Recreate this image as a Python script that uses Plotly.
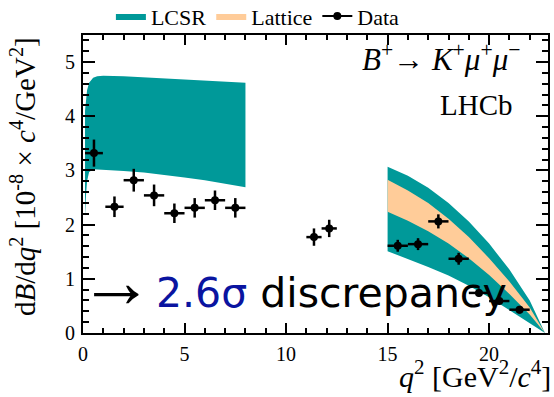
import plotly.graph_objects as go

# Measured differential branching fraction, B+ -> K+ mu+ mu-
q2_bin_lo = [0.1, 1.1, 2.0, 3.0, 4.0, 5.0, 6.0, 7.0, 11.0, 11.75, 15.0, 16.0, 17.0, 18.0, 19.0, 20.0, 21.0]
q2_bin_hi = [0.98, 2.0, 3.0, 4.0, 5.0, 6.0, 7.0, 8.0, 11.75, 12.5, 16.0, 17.0, 18.0, 19.0, 20.0, 21.0, 22.0]
dbdq2 = [3.32, 2.33, 2.82, 2.54, 2.21, 2.31, 2.45, 2.31, 1.77, 1.93, 1.61, 1.64, 2.06, 1.37, 0.74, 0.59, 0.43]
dbdq2_err = [0.25, 0.19, 0.21, 0.20, 0.18, 0.18, 0.18, 0.18, 0.16, 0.16, 0.11, 0.11, 0.13, 0.11, 0.07, 0.06, 0.07]

# LCSR prediction, low-q2 region
lcsr_low_q2 = [0.1, 0.15, 0.2, 0.3, 0.5, 0.7, 1, 2, 3, 4, 5, 6, 7, 8]
lcsr_low_up = [4.1, 4.35, 4.48, 4.62, 4.71, 4.74, 4.75, 4.74, 4.72, 4.70, 4.68, 4.66, 4.64, 4.62]
lcsr_low_lo = [2.15, 2.55, 2.8, 2.97, 3.02, 3.02, 3.01, 2.99, 2.96, 2.92, 2.87, 2.82, 2.76, 2.69]

# LCSR and lattice predictions, high-q2 region
high_q2 = [15, 16, 17, 18, 19, 20, 21, 22, 22.75]
lcsr_high_up = [3.07, 2.90, 2.68, 2.40, 2.06, 1.65, 1.17, 0.60, 0]
lcsr_high_lo = [1.51, 1.37, 1.22, 1.06, 0.87, 0.66, 0.43, 0.18, 0]
latt_high_up = [2.83, 2.63, 2.40, 2.11, 1.77, 1.38, 0.95, 0.47, 0]
latt_high_lo = [2.24, 2.07, 1.88, 1.65, 1.38, 1.07, 0.72, 0.34, 0]

x_ticks = [0, 5, 10, 15, 20]
y_ticks = [0, 1, 2, 3, 4, 5]

TEAL = "rgb(0,153,153)"
PEACH = "rgb(255,204,153)"
SERIF = "Liberation Serif"


def band(xs, up, lo):
    return xs + xs[::-1], up + lo[::-1]


q2_mid = [(a + b) / 2 for a, b in zip(q2_bin_lo, q2_bin_hi)]
q2_half = [(b - a) / 2 for a, b in zip(q2_bin_lo, q2_bin_hi)]

fig = go.Figure()

bx, by = band(lcsr_low_q2, lcsr_low_up, lcsr_low_lo)
fig.add_trace(go.Scatter(x=bx, y=by, fill="toself", fillcolor=TEAL, mode="lines",
                         line=dict(width=0, color=TEAL), name="LCSR", legendgroup="lcsr"))
bx, by = band(high_q2, lcsr_high_up, lcsr_high_lo)
fig.add_trace(go.Scatter(x=bx, y=by, fill="toself", fillcolor=TEAL, mode="lines",
                         line=dict(width=0, color=TEAL), name="LCSR", legendgroup="lcsr",
                         showlegend=False))
bx, by = band(high_q2, latt_high_up, latt_high_lo)
fig.add_trace(go.Scatter(x=bx, y=by, fill="toself", fillcolor=PEACH, mode="lines",
                         line=dict(width=0, color=PEACH), name="Lattice"))

fig.add_trace(go.Scatter(
    x=q2_mid, y=dbdq2, mode="markers", showlegend=False,
    marker=dict(color="black", size=8),
    error_x=dict(type="data", array=q2_half, color="black", thickness=2.5, width=0),
    error_y=dict(type="data", array=dbdq2_err, color="black", thickness=2.5, width=0),
))
# legend entry for the data points
fig.add_trace(go.Scatter(x=[None], y=[None], mode="lines+markers", name="Data",
                         marker=dict(color="black", size=8), line=dict(color="black", width=2)))

axis_common = dict(
    showline=True, linecolor="black", linewidth=2, mirror="allticks",
    ticks="inside", tickcolor="black", tickwidth=2,
    showgrid=False, zeroline=False,
    tickfont=dict(family=SERIF, size=20, color="black"),
)

fig.update_xaxes(range=[0, 22.9], tickvals=x_ticks, ticklen=10,
                 minor=dict(ticks="inside", dtick=1, ticklen=5, tickwidth=1.5, tickcolor="black"),
                 ticklabelstandoff=2, **axis_common)
fig.update_yaxes(range=[0, 5.5], tickvals=y_ticks, ticklen=12,
                 minor=dict(ticks="inside", dtick=0.2, ticklen=6, tickwidth=1.5, tickcolor="black"),
                 ticklabelstandoff=2, **axis_common)

fig.add_annotation(xref="paper", yref="paper", x=1.01, y=-0.208, xanchor="right", yanchor="bottom",
                   text="<i>q</i><sup>2</sup> [GeV<sup>2</sup>/<i>c</i><sup>4</sup>]",
                   showarrow=False, font=dict(family=SERIF, size=30, color="black"))
fig.add_annotation(xref="paper", yref="paper", x=-0.13, y=1.0, xanchor="center", yanchor="top",
                   textangle=-90,
                   text="d<i>B</i>/d<i>q</i><sup>2</sup> [10<sup>-8</sup> × <i>c</i><sup>4</sup>/GeV<sup>2</sup>]",
                   showarrow=False, font=dict(family=SERIF, size=29, color="black"))

fig.add_annotation(xref="paper", yref="paper", x=0.945, y=0.925, xanchor="right", yanchor="middle",
                   text="<i>B</i><sup>+</sup>→ <i>K</i><sup>+</sup><i>μ</i><sup>+</sup><i>μ</i><sup>−</sup>",
                   showarrow=False, font=dict(family=SERIF, size=31, color="black"))
fig.add_annotation(xref="paper", yref="paper", x=0.93, y=0.765, xanchor="right", yanchor="middle",
                   text="LHCb", showarrow=False, font=dict(family=SERIF, size=29, color="black"))

fig.add_annotation(xref="paper", yref="paper", x=-0.013, y=0.174, xanchor="left", yanchor="middle",
                   text="→", showarrow=False, font=dict(family=SERIF, size=75, color="black"))
fig.add_annotation(xref="paper", yref="paper", x=0.152, y=0.135, xanchor="left", yanchor="middle",
                   text="<span style='color:rgb(10,20,160)'>2.6σ</span> discrepancy",
                   showarrow=False, font=dict(family="DejaVu Sans", size=41, color="black"))

fig.update_layout(
    width=554, height=397,
    margin=dict(l=83, r=6, t=35, b=64, autoexpand=False),
    paper_bgcolor="white", plot_bgcolor="white",
    showlegend=True,
    legend=dict(orientation="h", x=0.06, y=1.063, xanchor="left", yanchor="middle",
                font=dict(family=SERIF, size=22, color="black"),
                bgcolor="rgba(0,0,0,0)", itemwidth=30, tracegroupgap=0),
)

fig.write_html("out.html")
